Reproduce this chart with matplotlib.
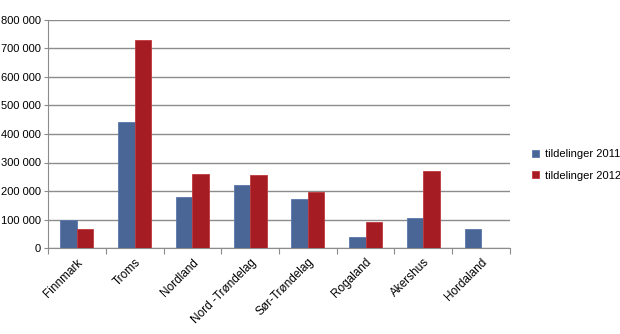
import matplotlib
matplotlib.use("Agg")
import matplotlib.pyplot as plt
import numpy as np

# data
fylker = ["Finnmark", "Troms", "Nordland", "Nord -Trøndelag", "Sør-Trøndelag",
          "Rogaland", "Akershus", "Hordaland"]
tildelt_2011 = [100000, 441000, 179000, 221000, 172000, 38000, 104000, 67000]
tildelt_2012 = [68000, 730000, 258000, 256000, 196000, 92000, 271000, 0]
yticks = np.arange(0, 800001, 100000)

plt.rcParams['font.family'] = ['Liberation Sans', 'DejaVu Sans']

fig = plt.figure(figsize=(6.2, 3.34), dpi=100)
ax = fig.add_axes([48 / 620, 1 - 248 / 334, 462 / 620, 228 / 334])

x = np.arange(len(fylker))
w = 0.2857
ax.bar(x - w / 2, tildelt_2011, width=w, color='#4a6696', edgecolor='#5a78aa',
       linewidth=0.6, label='tildelinger 2011', zorder=3)
ax.bar(x + w / 2, tildelt_2012, width=w, color='#a51c22', edgecolor='#c0393c',
       linewidth=0.6, label='tildelinger 2012', zorder=3)

ax.set_xlim(-0.5, len(fylker) - 0.5)
ax.set_ylim(0, 800000)
ax.set_yticks(yticks)
ax.set_yticklabels([f"{v:,}".replace(",", " ") for v in yticks], fontsize=8)
ax.yaxis.grid(True, color='#8c8c8c', linewidth=1.0, zorder=0)

ax.set_xticks(np.arange(-0.5, len(fylker)), minor=False)
ax.set_xticklabels([])
ax.set_xticks(x, minor=True)
ax.set_xticklabels(fylker, minor=True, rotation=45, ha='right', va='top',
                   rotation_mode='anchor', fontsize=8.5)
ax.tick_params(axis='x', which='minor', length=0, pad=6)
ax.tick_params(axis='x', which='major', length=4, color='#8c8c8c')
ax.tick_params(axis='y', length=3, color='#8c8c8c', pad=2)

for s in ['top', 'right']:
    ax.spines[s].set_visible(False)
for s in ['left', 'bottom']:
    ax.spines[s].set_color('#8c8c8c')

fig.legend(loc='center left', bbox_to_anchor=(532 / 620, 1 - 165 / 334),
           frameon=False, fontsize=8, handlelength=0.6, handleheight=0.6,
           handletextpad=0.6, labelspacing=1.05, borderaxespad=0, borderpad=0)

fig.savefig("out.png", dpi=100)
